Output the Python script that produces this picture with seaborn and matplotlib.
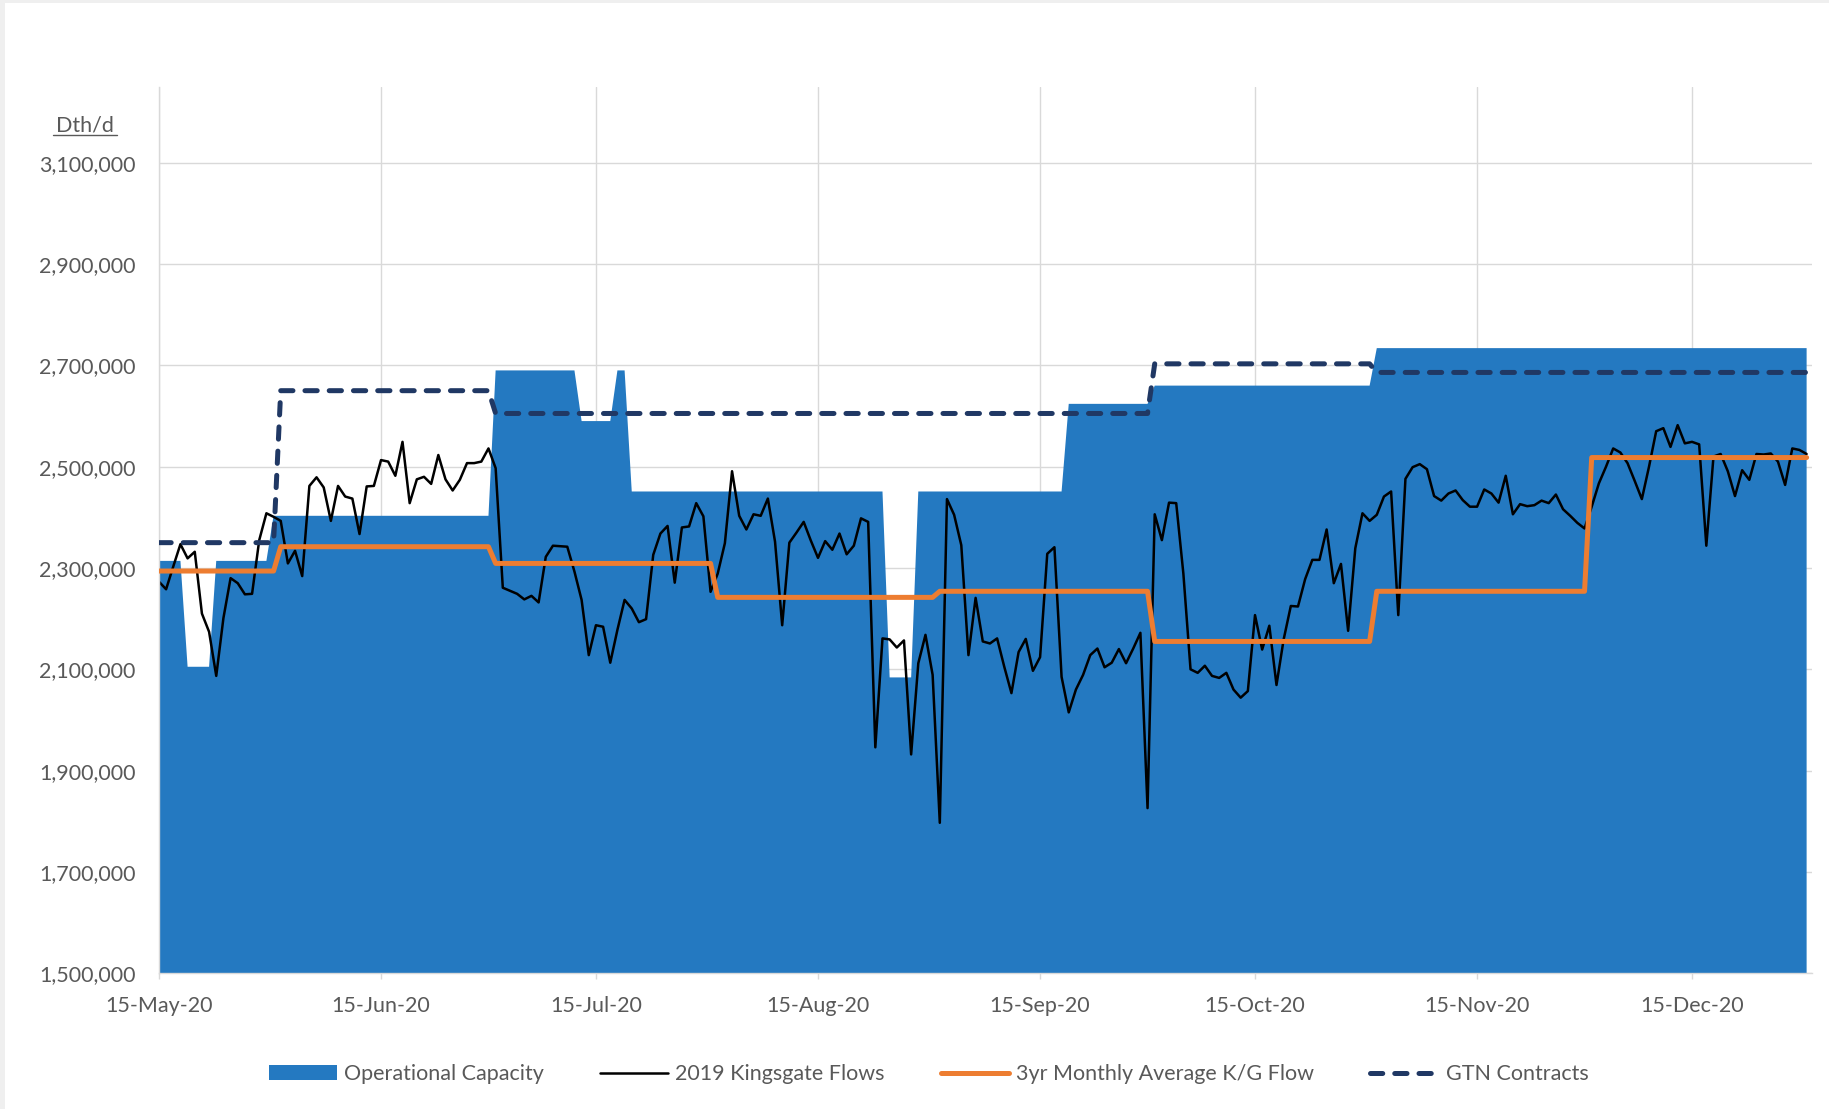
import pandas as pd
import matplotlib
matplotlib.use("Agg")
import matplotlib.pyplot as plt
import matplotlib.dates as mdates
import matplotlib.ticker as mticker
from matplotlib.patches import Patch, Rectangle
from matplotlib.lines import Line2D
import seaborn as sns

# daily x axis, 15-May-20 .. 31-Dec-20
dates = pd.date_range("2020-05-15", "2020-12-31", freq="D")

# 2019 Kingsgate flows, one value per day (Dth/d)
flows_2019 = [
    2273000, 2258000, 2303000, 2347000, 2319000, 2332000, 2210000, 2174000, 2087000, 2201000,
    2280000, 2270000, 2248000, 2249000, 2355000, 2408000, 2401000, 2393000, 2309000, 2334000,
    2284000, 2462000, 2479000, 2459000, 2393000, 2462000, 2441000, 2437000, 2367000, 2461000,
    2462000, 2513000, 2510000, 2482000, 2549000, 2428000, 2475000, 2480000, 2466000, 2523000,
    2475000, 2453000, 2474000, 2507000, 2507000, 2510000, 2536000, 2497000, 2261000, 2255000,
    2249000, 2238000, 2245000, 2232000, 2322000, 2344000, 2343000, 2342000, 2293000, 2237000,
    2128000, 2187000, 2184000, 2113000, 2178000, 2237000, 2220000, 2193000, 2199000, 2326000,
    2368000, 2383000, 2271000, 2380000, 2382000, 2428000, 2402000, 2253000, 2289000, 2349000,
    2491000, 2403000, 2376000, 2406000, 2403000, 2437000, 2352000, 2187000, 2350000, 2370000,
    2391000, 2354000, 2320000, 2353000, 2336000, 2368000, 2327000, 2344000, 2398000, 2391000,
    1946000, 2161000, 2159000, 2143000, 2157000, 1932000, 2112000, 2168000, 2089000, 1797000,
    2436000, 2405000, 2345000, 2128000, 2241000, 2155000, 2151000, 2161000, 2105000, 2053000,
    2134000, 2160000, 2097000, 2124000, 2328000, 2341000, 2085000, 2015000, 2060000, 2089000,
    2128000, 2141000, 2104000, 2113000, 2140000, 2112000, 2141000, 2172000, 1826000, 2406000,
    2355000, 2429000, 2428000, 2289000, 2100000, 2093000, 2107000, 2087000, 2083000, 2093000,
    2060000, 2044000, 2057000, 2207000, 2139000, 2186000, 2069000, 2159000, 2225000, 2224000,
    2278000, 2316000, 2316000, 2376000, 2270000, 2308000, 2176000, 2339000, 2408000, 2393000,
    2405000, 2441000, 2451000, 2207000, 2476000, 2499000, 2505000, 2495000, 2442000, 2433000,
    2447000, 2453000, 2434000, 2421000, 2421000, 2455000, 2447000, 2429000, 2482000, 2406000,
    2426000, 2422000, 2424000, 2433000, 2428000, 2445000, 2416000, 2403000, 2389000, 2378000,
    2421000, 2467000, 2500000, 2536000, 2528000, 2507000, 2472000, 2436000, 2500000, 2570000,
    2576000, 2539000, 2582000, 2546000, 2549000, 2544000, 2344000, 2520000, 2525000, 2491000,
    2442000, 2493000, 2474000, 2525000, 2524000, 2526000, 2510000, 2464000, 2536000, 2533000,
    2525000,
]

# step series: date of each change and the new level
cap_dates = ["2020-05-15", "2020-05-19", "2020-05-23", "2020-05-31", "2020-07-01",
             "2020-07-13", "2020-07-18", "2020-07-20", "2020-08-25", "2020-08-29",
             "2020-09-19", "2020-10-01", "2020-11-01"]
cap_levels = [2314000, 2105000, 2314000, 2403000, 2690000,
              2590000, 2690000, 2451000, 2084000, 2451000,
              2624000, 2660000, 2734000]

avg_dates = ["2020-05-15", "2020-06-01", "2020-07-01", "2020-08-01",
             "2020-09-01", "2020-10-01", "2020-11-01", "2020-12-01"]
avg_levels = [2294000, 2342000, 2309000, 2242000,
              2254000, 2155000, 2254000, 2518000]

gtn_dates = ["2020-05-15", "2020-06-01", "2020-07-01", "2020-10-01", "2020-11-01"]
gtn_levels = [2350000, 2650000, 2605000, 2703000, 2686000]


def daily(change_dates, levels):
    s = pd.Series(levels, index=pd.to_datetime(change_dates))
    return s.reindex(dates).ffill().values


df = pd.DataFrame({
    "date": dates,
    "flows": flows_2019,
    "capacity": daily(cap_dates, cap_levels),
    "avg3yr": daily(avg_dates, avg_levels),
    "gtn": daily(gtn_dates, gtn_levels),
})

BLUE = "#2479C1"
ORANGE = "#ED7D31"
NAVY = "#203864"
GRID = "#D9D9D9"
TEXT = "#595959"
FS = 15.5
GTN_DASH = (0, (2.45, 2.4))

sns.set_theme(style="white")
plt.rcParams["font.family"] = ["Lato", "DejaVu Sans"]

fig = plt.figure(figsize=(18.29, 11.09), dpi=100)
fig.patch.set_facecolor("#EFEFEF")
fig.add_artist(Rectangle((5 / 1829, 0), 1, 1 - 3 / 1109, transform=fig.transFigure,
                         facecolor="white", edgecolor="none", zorder=-1))

ax = fig.add_axes([0.0869, 0.1224, 0.9038, 0.7994])

ax.fill_between(df["date"], df["capacity"], 0, color=BLUE, lw=0, zorder=1)
sns.lineplot(data=df, x="date", y="flows", color="black", lw=1.8, ax=ax, zorder=2)
sns.lineplot(data=df, x="date", y="avg3yr", color=ORANGE, lw=3.6, ax=ax, zorder=3)
sns.lineplot(data=df, x="date", y="gtn", color=NAVY, lw=3.6, linestyle=GTN_DASH,
             dash_capstyle="round", ax=ax, zorder=4)

ax.set_xlabel("")
ax.set_ylabel("")
ax.set_ylim(1500000, 3250000)
ax.set_yticks(range(1500000, 3100001, 200000))
ax.yaxis.set_major_formatter(mticker.StrMethodFormatter("{x:,.0f}"))
ax.set_xlim(pd.Timestamp("2020-05-15"), pd.Timestamp("2020-12-31 18:00"))
ax.xaxis.set_major_locator(mdates.MonthLocator(bymonthday=15))
ax.xaxis.set_major_formatter(mdates.DateFormatter("%d-%b-%y"))

ax.set_axisbelow(True)
ax.grid(True, color=GRID, lw=1)
for s in ["top", "right"]:
    ax.spines[s].set_visible(False)
for s in ["left", "bottom"]:
    ax.spines[s].set_color(GRID)
    ax.spines[s].set_linewidth(1)
ax.tick_params(axis="x", bottom=True, length=4.5, width=1, color=GRID,
               labelsize=FS, labelcolor=TEXT, pad=12)
ax.tick_params(axis="y", left=False, length=0, labelsize=FS, labelcolor=TEXT, pad=17)

# unit label with underline
fig.text(85 / 1829, 1 - 131 / 1109, "Dth/d", ha="center", va="baseline",
         fontsize=FS, color=TEXT)
fig.add_artist(Line2D([53 / 1829, 117 / 1829], [1 - 134.5 / 1109] * 2,
                      transform=fig.transFigure, color=TEXT, lw=1))

handles = [
    Patch(facecolor=BLUE, edgecolor="none"),
    Line2D([], [], color="black", lw=1.8),
    Line2D([], [], color=ORANGE, lw=3.6),
    Line2D([], [], color=NAVY, lw=3.6, linestyle=GTN_DASH, dash_capstyle="round"),
]
labels = ["Operational Capacity", "2019 Kingsgate Flows",
          "3yr Monthly Average K/G Flow", "GTN Contracts"]
fig.legend(handles, labels, loc="center", bbox_to_anchor=(0.5077, 0.0312), ncol=4,
           frameon=False, fontsize=FS, labelcolor=TEXT, handlelength=3.15,
           handletextpad=0.35, columnspacing=2.6)

fig.savefig("out.png", dpi=100)
